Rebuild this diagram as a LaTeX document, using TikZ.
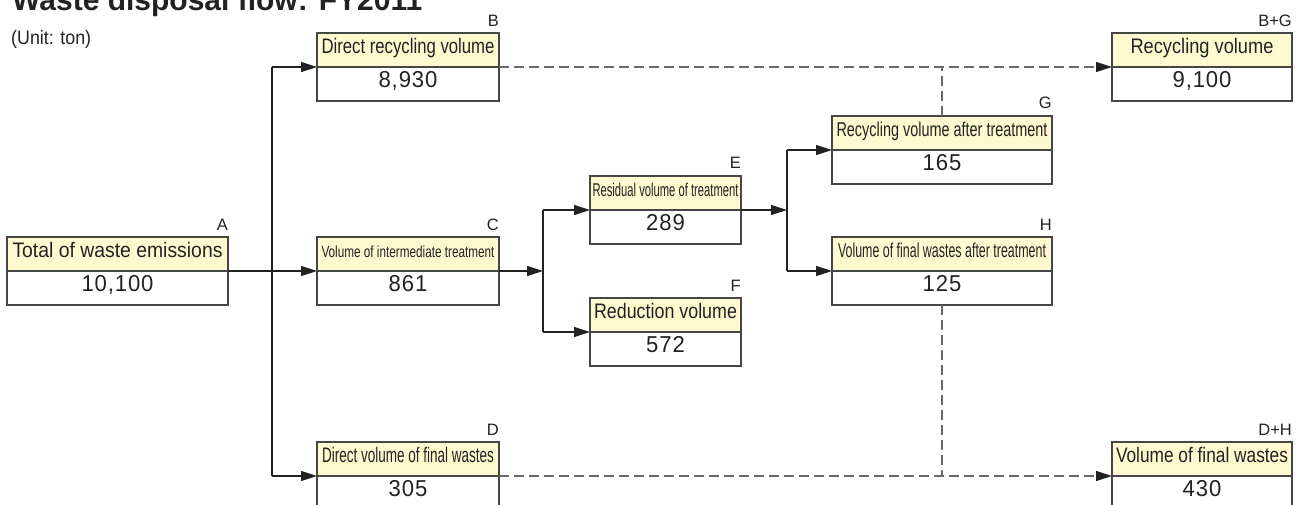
\documentclass[tikz,border=0pt]{standalone}
\usepackage{fontspec}
\setmainfont{Liberation Sans}
\usetikzlibrary{arrows.meta}
\definecolor{hdrfill}{RGB}{255,249,208}
\definecolor{ink}{RGB}{34,34,34}
\definecolor{boxline}{RGB}{70,70,70}
\definecolor{dashline}{RGB}{105,105,105}
\newcommand{\flowbox}[8]{%
  \node[hdr, minimum width=#4pt, font=\fontsize{#5}{#5}\selectfont] (#1H) at (#2,#3) {\resizebox{#6pt}{\height}{#7}};
  \node[num, minimum width=#4pt] (#1N) at (#1H.south west) {\scalebox{0.96}[1]{#8}};
}
\begin{document}
\begin{tikzpicture}[x=1pt,y=-1pt,
  hdr/.style={draw=boxline, line width=1.2pt, fill=hdrfill, anchor=north west, inner sep=0pt, outer sep=0pt,
    minimum height=34pt, text=ink, text height=0.716em, text depth=0pt},
  num/.style={draw=boxline, line width=1.2pt, fill=white, anchor=north west, inner sep=0pt, outer sep=0pt,
    minimum height=34pt, text=ink, font=\fontsize{23}{23}\selectfont\addfontfeature{LetterSpace=4}, text height=0.716em, text depth=0pt},
  lbl/.style={text=ink, inner sep=0pt, anchor=base east, font=\fontsize{16.5}{16.5}\selectfont},
  conn/.style={draw=ink, line width=1.2pt},
  arr/.style={conn, -{Triangle[length=16pt,width=10pt]}},
  dline/.style={draw=dashline, line width=1.2pt, dash pattern=on 10pt off 5pt},
  darr/.style={dline, -{Triangle[length=16pt,width=10pt,color=ink]}}]
\useasboundingbox (0,0) rectangle (1301,505);
\fill[white] (0,0) rectangle (1301,505);

% title and unit
\node[anchor=base west, inner sep=0pt, text=ink, font=\bfseries\fontsize{30}{30}\selectfont] (title) at (12,11) {Waste disposal flow: FY2011};
\node[anchor=base west, inner sep=0pt, text=ink, font=\fontsize{19.5}{19.5}\selectfont] (unit) at (11,45) {\resizebox{80pt}{\height}{(Unit: ton)}};

% boxes
\flowbox{A}{7}{237}{221}{21}{210}{Total of waste emissions}{10,100}
\flowbox{B}{317}{33}{182}{21}{173}{Direct recycling volume}{8,930}
\flowbox{C}{317}{237}{182}{16}{173}{Volume of intermediate treatment}{861}
\flowbox{D}{317}{442}{182}{21}{172}{Direct volume of final wastes}{305}
\flowbox{E}{590}{176}{151}{18.5}{146}{Residual volume of treatment}{289}
\flowbox{F}{590}{298}{151}{21}{143}{Reduction volume}{572}
\flowbox{G}{832}{116}{220}{20}{211}{Recycling volume after treatment}{165}
\flowbox{H}{832}{237}{220}{20}{208}{Volume of final wastes after treatment}{125}
\flowbox{BpG}{1112}{33}{180}{21}{143}{Recycling volume}{9,100}
\flowbox{DpH}{1112}{442}{180}{21}{172}{Volume of final wastes}{430}

% letter labels
\node[lbl] (la) at ([yshift=7pt]AH.north east) {A};
\node[lbl] (lb) at ([yshift=6pt]BH.north east) {B};
\node[lbl] (lc) at ([yshift=7pt]CH.north east) {C};
\node[lbl] (ld) at ([yshift=7pt]DH.north east) {D};
\node[lbl] (le) at ([yshift=7pt]EH.north east) {E};
\node[lbl] (lf) at ([yshift=7pt]FH.north east) {F};
\node[lbl] (lg) at ([yshift=7pt]GH.north east) {G};
\node[lbl] (lh) at ([yshift=7pt]HH.north east) {H};
\node[lbl] (lbg) at ([yshift=6pt]BpGH.north east) {B+G};
\node[lbl] (ldh) at ([yshift=7pt]DpHH.north east) {D+H};

% junction coordinates
\coordinate (t1) at (272,0);
\coordinate (t2) at (543,0);
\coordinate (t3) at (787,0);

% first split
\draw[conn] (t1 |- BH.south west) -- (t1 |- DH.south west);
\draw[arr] (t1 |- BH.south west) -- (BH.south west);
\draw[arr] (AH.south east) -- (CH.south west);
\draw[arr] (t1 |- DH.south west) -- (DH.south west);

% second split
\draw[arr] (CH.south east) -- (t2 |- CH.south east);
\draw[conn] (t2 |- EH.south west) -- (t2 |- FH.south west);
\draw[arr] (t2 |- EH.south west) -- (EH.south west);
\draw[arr] (t2 |- FH.south west) -- (FH.south west);

% third split
\draw[arr] (EH.south east) -- (t3 |- EH.south east);
\draw[conn] (t3 |- GH.south west) -- (t3 |- HH.south west);
\draw[arr] (t3 |- GH.south west) -- (GH.south west);
\draw[arr] (t3 |- HH.south west) -- (HH.south west);

% dashed sums
\draw[darr] (BH.south east) -- (BpGH.south west);
\draw[dline] (GH.north) -- (GH.north |- BH.south east);
\draw[darr] (DH.south east) -- (DpHH.south west);
\draw[dline] (HN.south) -- (HN.south |- DH.south east);
\end{tikzpicture}
\end{document}
